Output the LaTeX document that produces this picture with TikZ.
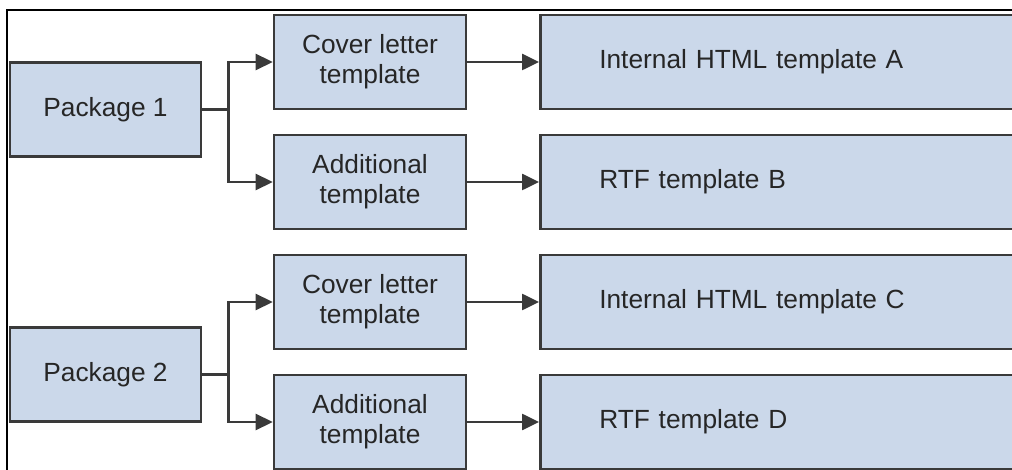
\documentclass[tikz,border=0pt]{standalone}
\usepackage{fontspec}
\setmainfont{Liberation Sans}
\usetikzlibrary{arrows.meta}
\definecolor{boxfill}{HTML}{CBD8EA}
\definecolor{edgegray}{HTML}{3A3A3A}
\begin{document}
\begin{tikzpicture}[x=1pt,y=-1pt,
  box/.style={draw=edgegray, line width=2.6pt, fill=boxfill, inner sep=0pt,
    font=\fontsize{26.3}{30}\selectfont, text=black!85, align=center},
  pkg/.style={box, minimum width=191pt, minimum height=94pt},
  tpl/.style={box, minimum width=192pt, minimum height=94pt},
  outbox/.style={box, minimum height=94pt, text width=420pt, inner xsep=59pt, align=left, anchor=west},
  wire/.style={draw=edgegray, line width=2.6pt},
  link/.style={wire, -{Triangle[length=17pt,width=16pt]}},
  frameline/.style={draw=black, line width=1.5pt}]

\useasboundingbox (0,0) rectangle (1012,470);
\clip (0,0) rectangle (1012,470);

% first package
\node[pkg] (p1) at (105.5,109.5) {Package 1};
\node[tpl] (c1) at (370,62) {Cover letter\\template};
\node[tpl] (a1) at (370,182) {Additional\\template};
\node[outbox] (r1) at (539,62) {Internal HTML template A};
\node[outbox] (r2) at (539,182) {RTF template B};

% second package
\node[pkg] (p2) at (105.5,374.5) {Package 2};
\node[tpl] (c2) at (370,302) {Cover letter\\template};
\node[tpl] (a2) at (370,422) {Additional\\template};
\node[outbox] (r3) at (539,302) {Internal HTML template C};
\node[outbox] (r4) at (539,422) {RTF template D};

% branching connectors
\coordinate (j1) at ([xshift=26pt]p1.east);
\coordinate (j2) at ([xshift=26pt]p2.east);
\draw[wire] (p1.east) -- (j1);
\draw[link] (j1) |- (c1.west);
\draw[link] (j1) |- (a1.west);
\draw[wire] (p2.east) -- (j2);
\draw[link] (j2) |- (c2.west);
\draw[link] (j2) |- (a2.west);

% template to output connectors
\draw[link] (c1.east) -- (r1.west);
\draw[link] (a1.east) -- (r2.west);
\draw[link] (c2.east) -- (r3.west);
\draw[link] (a2.east) -- (r4.west);

% outer frame edges
\draw[frameline] (7,470) -- (7,10) -- (1012,10);
\end{tikzpicture}
\end{document}
